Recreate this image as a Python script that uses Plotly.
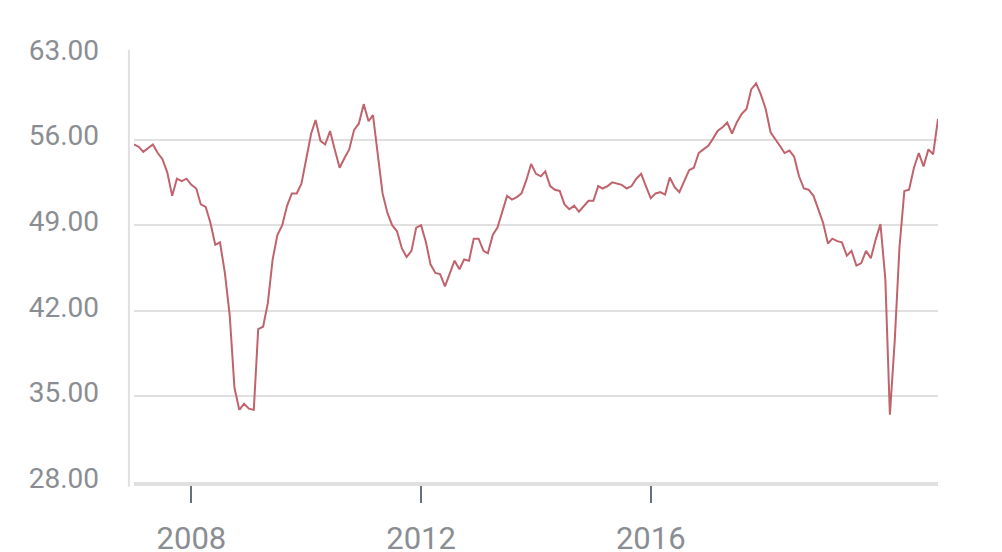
import pandas as pd
import plotly.graph_objects as go

# monthly index readings, Jan 2007 .. Jan 2021
dates = pd.date_range("2007-01-01", "2021-01-01", freq="MS")

values_2007 = [55.6, 55.4, 55.0, 55.3, 55.6, 54.9, 54.4, 53.3, 51.4, 52.8, 52.6, 52.8]
values_2008 = [52.3, 52.0, 50.7, 50.5, 49.2, 47.4, 47.6, 45.1, 41.6, 35.7, 33.9, 34.4]
values_2009 = [34.0, 33.9, 40.5, 40.7, 42.6, 46.2, 48.2, 49.0, 50.6, 51.6, 51.6, 52.4]
values_2010 = [54.4, 56.5, 57.6, 55.9, 55.6, 56.7, 55.2, 53.7, 54.5, 55.2, 56.8, 57.3]
values_2011 = [58.9, 57.5, 58.0, 54.6, 51.6, 50.0, 49.0, 48.5, 47.1, 46.4, 46.9, 48.8]
values_2012 = [49.0, 47.6, 45.8, 45.1, 45.0, 44.0, 45.1, 46.1, 45.4, 46.2, 46.1, 47.9]
values_2013 = [47.9, 46.9, 46.7, 48.2, 48.8, 50.1, 51.4, 51.1, 51.3, 51.6, 52.7, 54.0]
values_2014 = [53.2, 53.0, 53.4, 52.2, 51.9, 51.8, 50.7, 50.3, 50.6, 50.1, 50.6, 51.0]
values_2015 = [51.0, 52.2, 52.0, 52.2, 52.5, 52.4, 52.3, 52.0, 52.2, 52.8, 53.2, 52.2]
values_2016 = [51.2, 51.6, 51.7, 51.5, 52.9, 52.1, 51.7, 52.6, 53.5, 53.7, 54.9, 55.2]
values_2017 = [55.5, 56.1, 56.7, 57.0, 57.4, 56.5, 57.4, 58.1, 58.5, 60.1, 60.6, 59.7]
values_2018 = [58.5, 56.6, 56.1, 55.5, 54.9, 55.1, 54.6, 53.0, 52.0, 51.9, 51.4, 50.4]
values_2019 = [49.2, 47.5, 47.9, 47.7, 47.6, 46.5, 46.9, 45.7, 45.9, 46.9, 46.3, 47.8]
values_2020 = [49.1, 44.6, 33.5, 39.6, 47.2, 51.8, 51.9, 53.7, 54.9, 53.8, 55.2, 54.8]
values_2021 = [57.7]

values = (values_2007 + values_2008 + values_2009 + values_2010 + values_2011
          + values_2012 + values_2013 + values_2014 + values_2015 + values_2016
          + values_2017 + values_2018 + values_2019 + values_2020 + values_2021)

y_ticks = [28, 35, 42, 49, 56, 63]
x_ticks = ["2008-01-01", "2012-01-01", "2016-01-01"]
x_tick_labels = ["2008", "2012", "2016"]

label_color = "#8a8e93"

fig = go.Figure()
fig.add_trace(
    go.Scatter(
        x=dates,
        y=values,
        mode="lines",
        line=dict(color="#c0636d", width=2),
        hoverinfo="x+y",
    )
)

fig.update_layout(
    width=1002,
    height=552,
    margin=dict(l=134, r=64, t=54, b=70),
    plot_bgcolor="white",
    paper_bgcolor="white",
    showlegend=False,
    font=dict(family="Roboto", size=28, color=label_color),
)

fig.update_xaxes(
    range=[dates[0], dates[-1]],
    tickvals=x_ticks,
    ticktext=x_tick_labels,
    showgrid=False,
    showline=True,
    linecolor="#e0e0e0",
    linewidth=4,
    ticks="outside",
    ticklen=17,
    tickwidth=2,
    tickcolor="#66717b",
    ticklabelstandoff=9,
    tickfont=dict(family="Roboto", size=31, color=label_color),
    zeroline=False,
    automargin=False,
)

fig.update_yaxes(
    range=[28, 63],
    tickvals=y_ticks,
    tickformat=".2f",
    showgrid=True,
    gridcolor="#e0e0e0",
    gridwidth=2,
    showline=False,
    zeroline=False,
    ticks="",
    ticklabelstandoff=34,
    ticklabelshift=-4,
    tickfont=dict(family="Roboto", size=28, color=label_color),
    automargin=False,
)

# thin vertical rule left of the plot area
fig.add_shape(
    type="line",
    xref="paper",
    yref="paper",
    x0=-0.0063,
    x1=-0.0063,
    y0=-0.011,
    y1=1.01,
    line=dict(color="#e0e0e0", width=2),
)

# page without the browser's default body margin, so the figure sits at 0,0
fig.write_html(
    "out.html",
    config={"displayModeBar": False},
    post_script="document.body.style.margin = '0';",
)
